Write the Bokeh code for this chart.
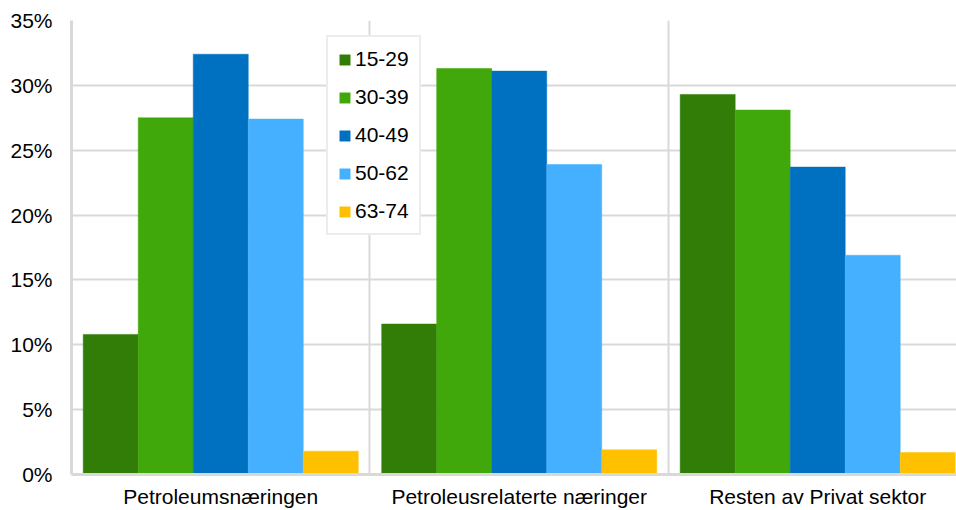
from bokeh.plotting import figure
from bokeh.models import (ColumnDataSource, Range1d, FixedTicker, NumeralTickFormatter,
                          Legend, LegendItem)
from bokeh.embed import file_html
from bokeh.resources import INLINE

# ---- data ----
categories = ["Petroleumsnæringen", "Petroleusrelaterte næringer", "Resten av Privat sektor"]
age_groups = ["15-29", "30-39", "40-49", "50-62", "63-74"]
v_15_29 = [0.108, 0.116, 0.293]
v_30_39 = [0.275, 0.313, 0.281]
v_40_49 = [0.324, 0.311, 0.237]
v_50_62 = [0.274, 0.239, 0.169]
v_63_74 = [0.018, 0.019, 0.017]
y_ticks = [0.0, 0.05, 0.10, 0.15, 0.20, 0.25, 0.30, 0.35]

series = [v_15_29, v_30_39, v_40_49, v_50_62, v_63_74]
colors = ["#317d07", "#40a80a", "#0070c0", "#44b0ff", "#ffc000"]

FONT = "Liberation Sans"
GRID = "#d9d9d9"

p = figure(width=956, height=510, output_backend="svg", toolbar_location=None,
           x_range=Range1d(0, 2.965), y_range=Range1d(0, 0.35),
           min_border_left=71, min_border_right=0, min_border_top=20, min_border_bottom=36)
p.outline_line_color = None
p.background_fill_color = "white"
p.border_fill_color = "white"

bar_w = 0.1843
renderers = []
for i, (name, vals, col) in enumerate(zip(age_groups, series, colors)):
    xs = [g + 0.5 + (i - 2) * bar_w for g in range(len(categories))]
    src = ColumnDataSource(dict(x=xs, top=vals))
    r = p.vbar(x="x", top="top", width=bar_w, source=src, fill_color=col,
               line_color=col, line_width=0.5)
    renderers.append((name, r))

# axes
p.yaxis.ticker = FixedTicker(ticks=y_ticks)
p.yaxis.formatter = NumeralTickFormatter(format="0%")
p.xaxis.ticker = FixedTicker(ticks=[0.5, 1.5, 2.5])
p.xaxis.major_label_overrides = {0.5: categories[0], 1.5: categories[1], 2.5: categories[2]}
for ax in (p.xaxis[0], p.yaxis[0]):
    ax.major_tick_line_color = None
    ax.minor_tick_line_color = None
    ax.major_tick_out = 0
    ax.major_tick_in = 0
    ax.axis_line_color = GRID
    ax.axis_line_width = 3
    ax.major_label_text_font = FONT
    ax.major_label_text_font_size = "21px"
    ax.major_label_text_color = "#000000"
p.yaxis.major_label_standoff = 19
p.xaxis.major_label_standoff = 10

p.ygrid.ticker = FixedTicker(ticks=y_ticks)
p.ygrid.grid_line_color = GRID
p.ygrid.grid_line_width = 2
p.xgrid.ticker = FixedTicker(ticks=[1, 2, 3])
p.xgrid.grid_line_color = GRID
p.xgrid.grid_line_width = 2

legend = Legend(items=[LegendItem(label=n, renderers=[r]) for n, r in renderers],
                location=(255, 239), orientation="vertical")
legend.label_text_font = FONT
legend.label_text_font_size = "21px"
legend.label_text_color = "#000000"
legend.glyph_width = 13
legend.glyph_height = 13
legend.label_height = 24
legend.label_standoff = 4
legend.spacing = 14
legend.padding = 10
legend.margin = 0
legend.border_line_color = GRID
legend.border_line_width = 2
legend.background_fill_color = "white"
legend.background_fill_alpha = 1.0
p.add_layout(legend, "center")

open("out.html", "w").write(file_html(p, INLINE))
